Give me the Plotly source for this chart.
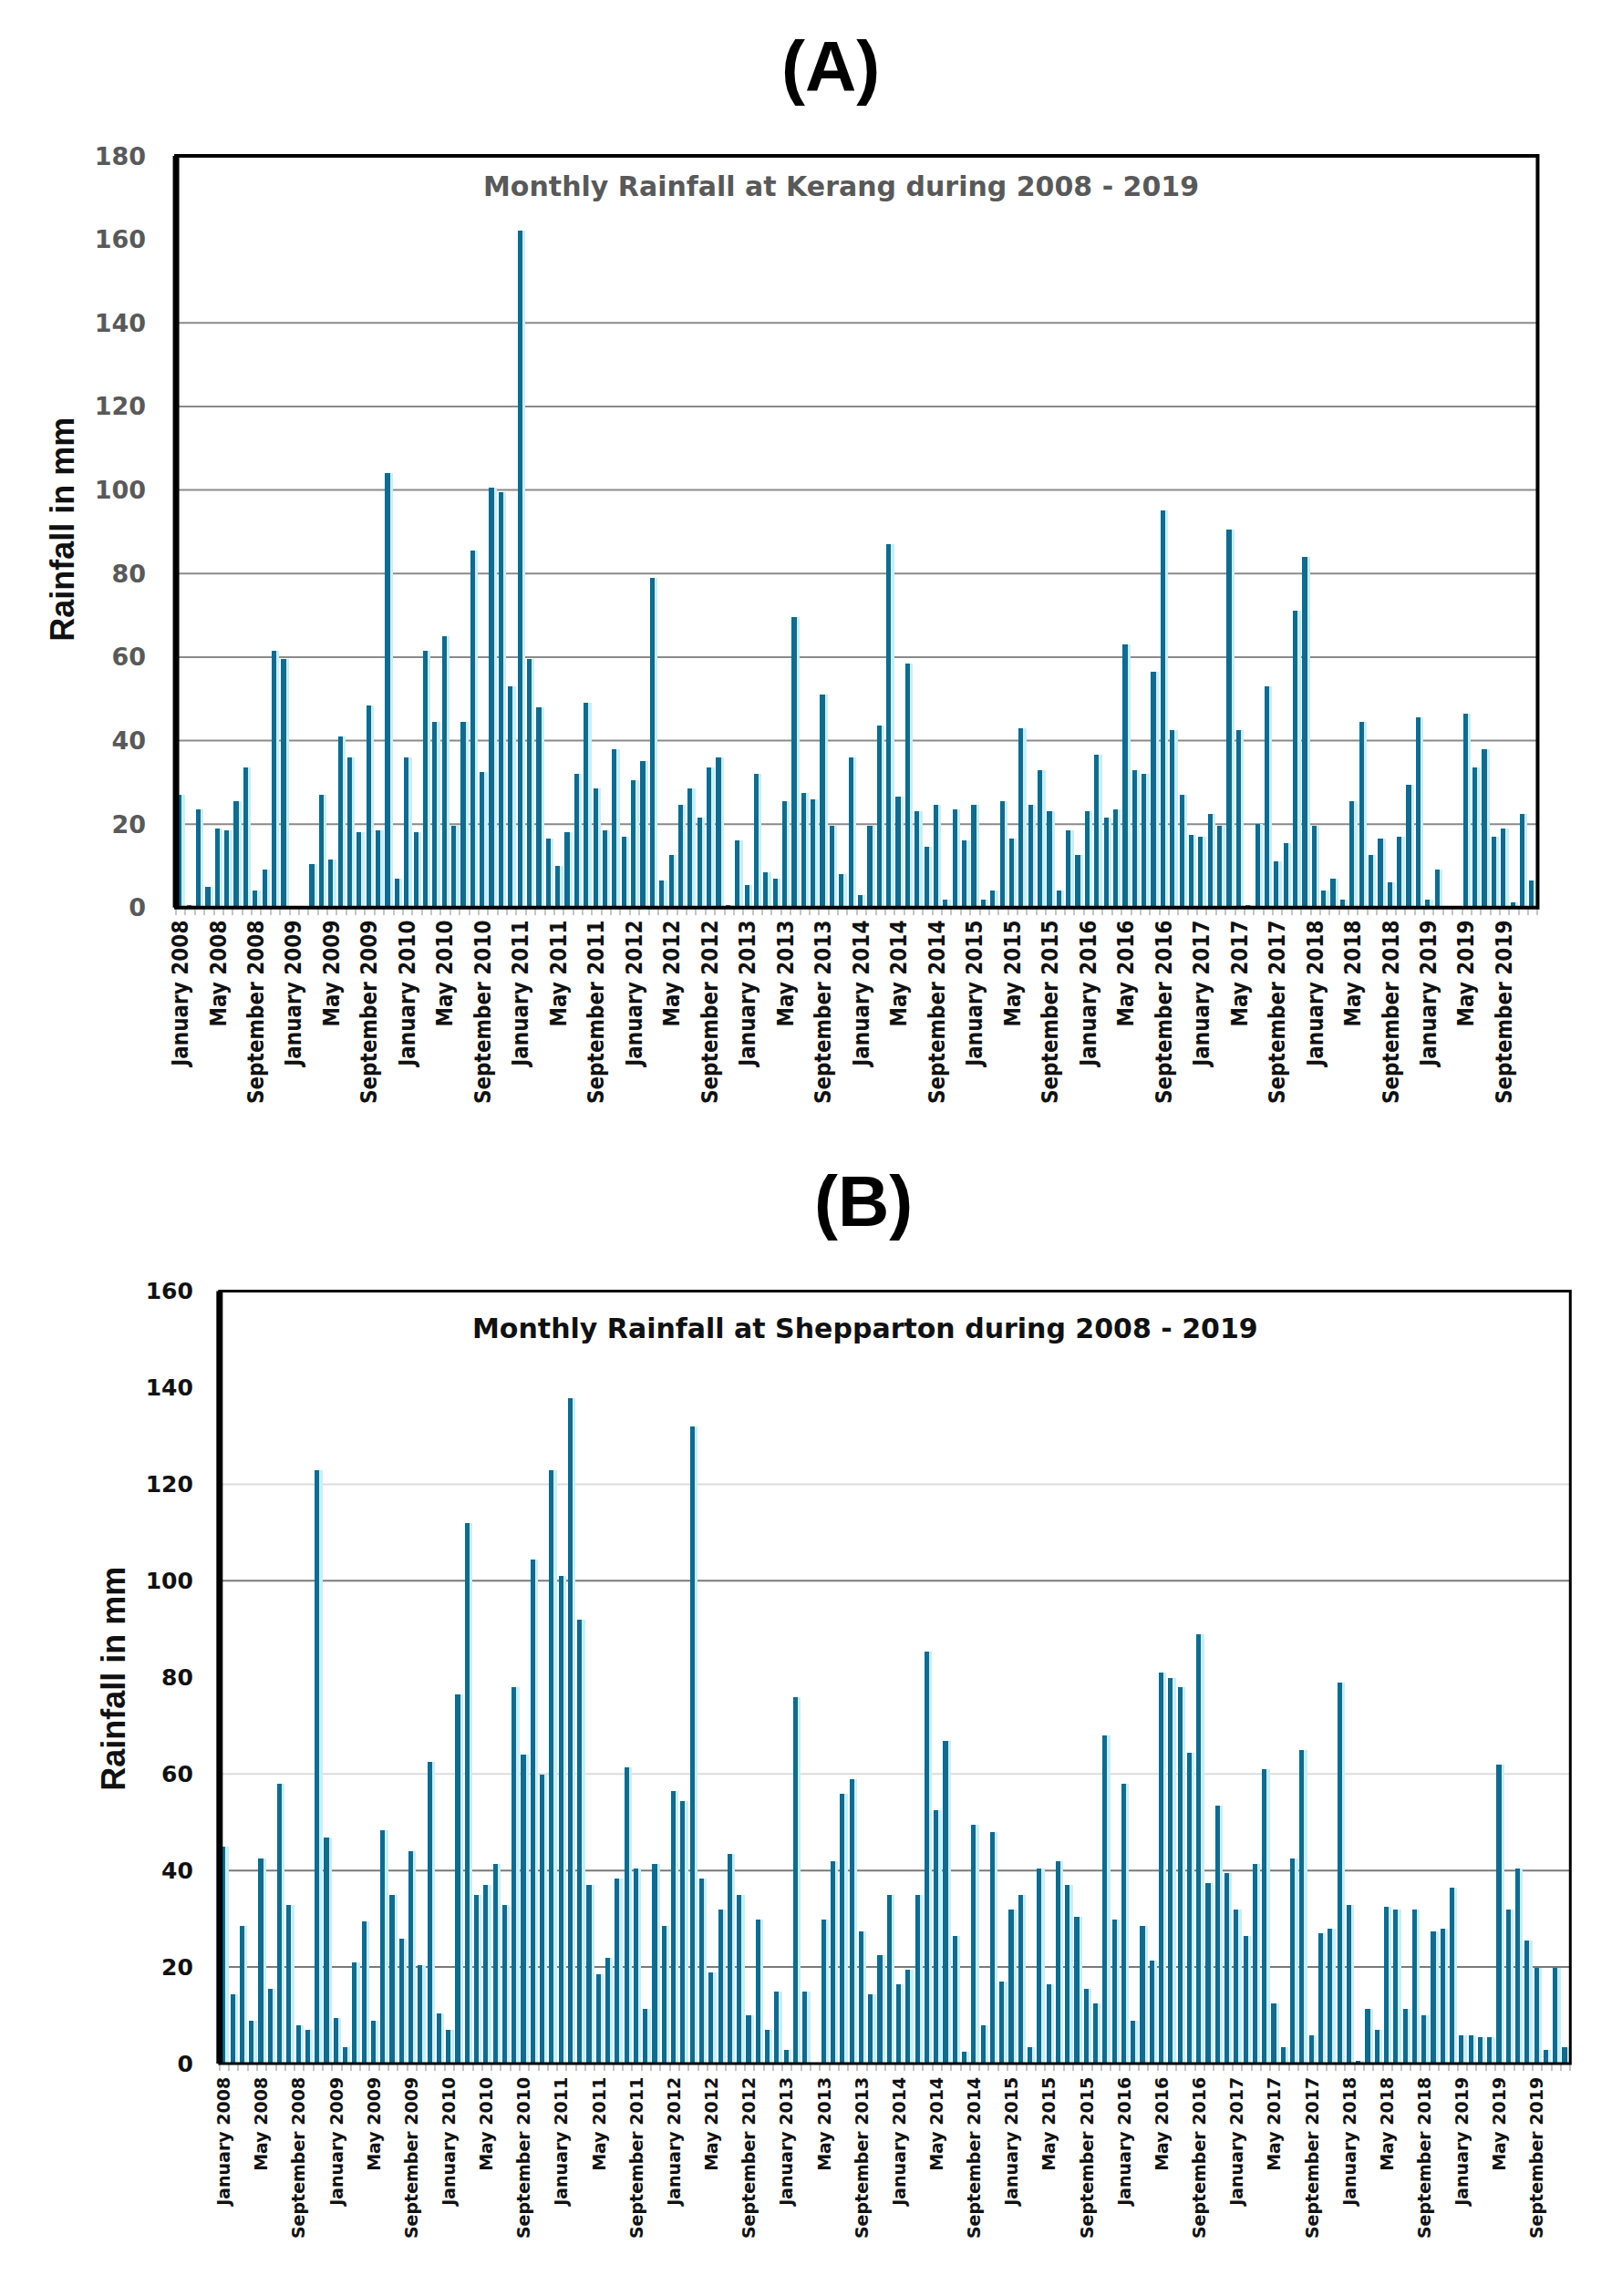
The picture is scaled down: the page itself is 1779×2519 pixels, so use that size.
import plotly.graph_objects as go

MONTH_NAMES = ["January", "February", "March", "April", "May", "June", "July",
               "August", "September", "October", "November", "December"]
YEARS = list(range(2008, 2020))
MONTHS = [f"{m} {y}" for y in YEARS for m in MONTH_NAMES]

KERANG = [
    27, 0.5, 23.5, 5, 19, 18.5, 25.5, 33.5, 4, 9, 61.5, 59.5,          # 2008
    0.3, 0.3, 10.5, 27, 11.5, 41, 36, 18, 48.5, 18.5, 104, 7,          # 2009
    36, 18, 61.5, 44.5, 65, 19.5, 44.5, 85.5, 32.5, 100.5, 99.5, 53,   # 2010
    162, 59.5, 48, 16.5, 10, 18, 32, 49, 28.5, 18.5, 38, 17,           # 2011
    30.5, 35, 79, 6.5, 12.5, 24.5, 28.5, 21.5, 33.5, 36, 0.5, 16,      # 2012
    5.5, 32, 8.5, 7, 25.5, 69.5, 27.5, 26, 51, 19.5, 8, 36,            # 2013
    3, 19.5, 43.5, 87, 26.5, 58.5, 23, 14.5, 24.5, 2, 23.5, 16,        # 2014
    24.5, 2, 4, 25.5, 16.5, 43, 24.5, 33, 23, 4, 18.5, 12.5,           # 2015
    23, 36.5, 21.5, 23.5, 63, 33, 32, 56.5, 95, 42.5, 27, 17.5,        # 2016
    17, 22.5, 19.5, 90.5, 42.5, 0.5, 20, 53, 11, 15.5, 71, 84,         # 2017
    19.5, 4, 7, 2, 25.5, 44.5, 12.5, 16.5, 6, 17, 29.5, 45.5,          # 2018
    2, 9, 0, 0, 46.5, 33.5, 38, 17, 19, 1.2, 22.5, 6.5,                # 2019
]

SHEPPARTON = [
    45, 14.5, 28.5, 9, 42.5, 15.5, 58, 33, 8, 7, 123, 47,              # 2008
    9.5, 3.5, 21, 29.5, 9, 48.5, 35, 26, 44, 20.5, 62.5, 10.5,         # 2009
    7, 76.5, 112, 35, 37, 41.5, 33, 78, 64, 104.5, 60, 123,            # 2010
    101, 138, 92, 37, 18.5, 22, 38.5, 61.5, 40.5, 11.5, 41.5, 28.5,    # 2011
    56.5, 54.5, 132, 38.5, 19, 32, 43.5, 35, 10, 30, 7, 15,            # 2012
    3, 76, 15, 0, 30, 42, 56, 59, 27.5, 14.5, 22.5, 35,                # 2013
    16.5, 19.5, 35, 85.5, 52.5, 67, 26.5, 2.5, 49.5, 8, 48, 17,        # 2014
    32, 35, 3.5, 40.5, 16.5, 42, 37, 30.5, 15.5, 12.5, 68, 30,         # 2015
    58, 9, 28.5, 21.5, 81, 80, 78, 64.5, 89, 37.5, 53.5, 39.5,         # 2016
    32, 26.5, 41.5, 61, 12.5, 3.5, 42.5, 65, 6, 27, 28, 79,            # 2017
    33, 0.7, 11.5, 7, 32.5, 32, 11.5, 32, 10, 27.5, 28, 36.5,          # 2018
    6, 6, 5.5, 5.5, 62, 32, 40.5, 25.5, 20, 3, 20, 3.5,                # 2019
]

IDX = list(range(len(MONTHS)))
TICK_IDX = IDX[::4]
TICK_TEXT = MONTHS[::4]

GRID_A = [20, 40, 60, 80, 100, 120, 140]
GRID_B_DARK = [20, 40, 100]
GRID_B_LIGHT = [60, 120]

DARK = "#136a8c"
GLOW = "#c2f1fc"

fig = go.Figure()

for series, xa, ya in [(KERANG, "x", "y"), (SHEPPARTON, "x2", "y2")]:
    fig.add_trace(go.Bar(x=IDX, y=series, xaxis=xa, yaxis=ya, width=0.32, offset=0.12,
                         marker=dict(color=GLOW, line=dict(width=0)), showlegend=False,
                         hoverinfo="skip"))
    fig.add_trace(go.Bar(x=IDX, y=series, xaxis=xa, yaxis=ya, width=0.5, offset=-0.38,
                         marker=dict(color=DARK, line=dict(width=0)), showlegend=False,
                         customdata=MONTHS, hovertemplate="%{customdata}: %{y} mm<extra></extra>"))

W, H = 1779, 2519
dom_ax = [185 / W, 1686 / W]
dom_ay = [1 - 992 / H, 1 - 157 / H]
dom_bx = [233 / W, 1722 / W]
dom_by = [1 - 2276 / H, 1 - 1418 / H]

xcommon = dict(range=[-0.5, 143.5], tickmode="array", tickvals=TICK_IDX, ticktext=TICK_TEXT,
               tickangle=-90, ticks="", showgrid=False, zeroline=False, showline=False,
               minor=dict(ticks="outside", ticklen=7, tickwidth=2, tickcolor="#c4c4c4",
                          tick0=0.5, dtick=1, showgrid=False))

fig.update_layout(
    width=W, height=H,
    margin=dict(l=0, r=0, t=0, b=0),
    paper_bgcolor="white", plot_bgcolor="white",
    barmode="overlay", bargap=0,
    xaxis=dict(domain=dom_ax, anchor="y", **xcommon,
               ticklabelstandoff=8,
               tickfont=dict(family="DejaVu Sans Condensed, Liberation Sans Narrow, DejaVu Sans",
                             size=24, color="#111111", weight="bold")),
    yaxis=dict(domain=dom_ay, anchor="x", range=[0, 180], dtick=20, tick0=0,
               showgrid=False, zeroline=False, showline=False, ticks="",
               ticklabelstandoff=32,
               tickfont=dict(family="DejaVu Sans", size=27, color="#595959", weight="bold")),
    xaxis2=dict(domain=dom_bx, anchor="y2", **xcommon,
                ticklabelstandoff=10,
                tickfont=dict(family="DejaVu Sans", size=19, color="#111111", weight="bold")),
    yaxis2=dict(domain=dom_by, anchor="x2", range=[0, 160], dtick=20, tick0=0,
                showgrid=False, zeroline=False, showline=False, ticks="",
                ticklabelstandoff=28,
                tickfont=dict(family="DejaVu Sans", size=25, color="#111111", weight="bold")),
)

shapes = []
for v in GRID_A:
    shapes.append(dict(type="line", xref="x domain", yref="y", x0=0, x1=1, y0=v, y1=v,
                       line=dict(color="#8a8a8a", width=2), layer="below"))
for v in GRID_B_DARK:
    shapes.append(dict(type="line", xref="x2 domain", yref="y2", x0=0, x1=1, y0=v, y1=v,
                       line=dict(color="#7a7a7a", width=2), layer="below"))
for v in GRID_B_LIGHT:
    shapes.append(dict(type="line", xref="x2 domain", yref="y2", x0=0, x1=1, y0=v, y1=v,
                       line=dict(color="#dcdcdc", width=2), layer="below"))

# frames
shapes.append(dict(type="rect", xref="x domain", yref="y domain", x0=0, x1=1, y0=0, y1=1,
                   line=dict(color="black", width=4), layer="above"))
shapes.append(dict(type="line", xref="x domain", yref="y domain", x0=0, x1=0, y0=0, y1=1,
                   line=dict(color="black", width=7), layer="above"))
shapes.append(dict(type="rect", xref="x2 domain", yref="y2 domain", x0=0, x1=1, y0=0, y1=1,
                   line=dict(color="black", width=3), layer="above"))
shapes.append(dict(type="line", xref="x2 domain", yref="y2 domain", x0=0, x1=0, y0=0, y1=1,
                   line=dict(color="black", width=7), layer="above"))
fig.update_layout(shapes=shapes)

common_ann = dict(xref="paper", yref="paper", showarrow=False, xanchor="center", yanchor="middle")
annotations = [
    dict(text="(A)", x=907 / W, y=1 - 58 / H, **common_ann,
         font=dict(family="Liberation Sans, Arial, sans-serif", size=78, color="black", weight="bold")),
    dict(text="(B)", x=943 / W, y=1 - 1318 / H, **common_ann,
         font=dict(family="Liberation Sans, Arial, sans-serif", size=78, color="black", weight="bold")),
    dict(text="Monthly Rainfall at Kerang during 2008 - 2019", x=918 / W, y=1 - 191 / H,
         **common_ann,
         font=dict(family="DejaVu Sans", size=30, color="#595959", weight="bold")),
    dict(text="Monthly Rainfall at Shepparton during 2008 - 2019", x=945 / W, y=1 - 1459 / H,
         **common_ann,
         font=dict(family="DejaVu Sans", size=30, color="#111111", weight="bold")),
    dict(text="Rainfall in mm", x=60 / W, y=1 - 572 / H, textangle=-90, **common_ann,
         font=dict(family="Liberation Sans Narrow, Arial Narrow, Liberation Sans, sans-serif",
                   size=36, color="#111111", weight="bold")),
    dict(text="Rainfall in mm", x=116 / W, y=1 - 1848 / H, textangle=-90, **common_ann,
         font=dict(family="Liberation Sans Narrow, Arial Narrow, Liberation Sans, sans-serif",
                   size=36, color="#111111", weight="bold")),
]
fig.update_layout(annotations=annotations)

fig.write_html("out.html", config={"displayModeBar": False},
               post_script="document.body.style.margin='0';")
